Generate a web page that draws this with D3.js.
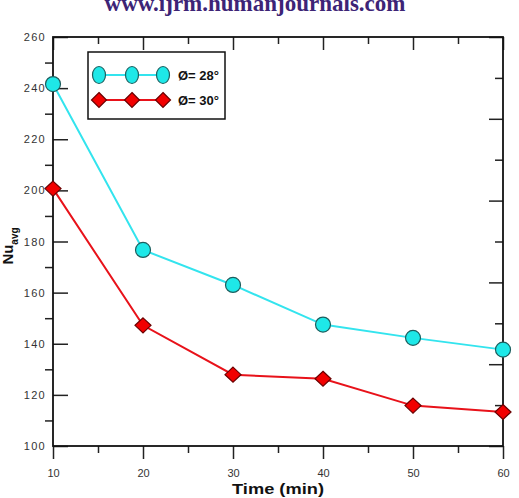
<!DOCTYPE html>
<html><head><meta charset="utf-8">
<script src="https://cdn.jsdelivr.net/npm/d3@7"></script>
<style>body{margin:0;background:#fff;}svg{display:block;}</style>
</head><body>
<svg id="c" width="519" height="498"></svg>
<script>
const times = [10, 20, 30, 40, 50, 60];
const nu28 = [241.6, 176.7, 163.0, 147.5, 142.3, 137.7];
const nu30 = [200.7, 147.2, 127.9, 126.3, 115.8, 113.3];
const seriesNames = ["Ø= 28°", "Ø= 30°"];
const xMajor = [10, 20, 30, 40, 50, 60];
const xMinor = [15, 25, 35, 45, 55];
const yMajor = [100, 120, 140, 160, 180, 200, 220, 240, 260];
const yMinor = [110, 130, 150, 170, 190, 210, 230, 250];
const rMajor = [0, 2, 4, 6, 8, 10];
const rMinor = [1, 3, 5, 7, 9];

const svg = d3.select("#c");
const L = 53, R = 503, T = 37, B = 446;
const x = d3.scaleLinear().domain([10, 60]).range([L, R]);
const y = d3.scaleLinear().domain([100, 260]).range([B, T]);
const yr = d3.scaleLinear().domain([0, 10]).range([B, T]);

// watermark (cut off at the top, as in the source)
svg.append("text").attr("x", 255).attr("y", 11).attr("text-anchor", "middle")
  .attr("font-family", "Liberation Serif, Times New Roman, serif").attr("font-weight", "bold")
  .attr("font-size", 23).attr("fill", "#3d2476").text("www.ijrm.humanjournals.com");

const tickFont = "Liberation Sans, Arial, sans-serif";
function styleAxis(g) {
  g.select(".domain").remove();
  g.selectAll("line").attr("stroke", "#222").attr("stroke-width", 1.5);
  g.selectAll("text").attr("font-family", tickFont).attr("font-size", 11).attr("fill", "#333");
}
// left
svg.append("g").attr("transform", `translate(${L},0)`)
  .call(d3.axisLeft(y).tickValues(yMajor).tickSizeInner(-15).tickSizeOuter(0).tickPadding(7)).call(styleAxis)
  .call(g => g.selectAll("text").attr("letter-spacing", 1.3));
svg.append("g").attr("transform", `translate(${L},0)`)
  .call(d3.axisLeft(y).tickValues(yMinor).tickSize(8).tickFormat("")).call(styleAxis);
// bottom
svg.append("g").attr("transform", `translate(0,${B})`)
  .call(d3.axisBottom(x).tickValues(xMajor).tickSizeInner(13).tickSizeOuter(0).tickPadding(10)).call(styleAxis);
svg.append("g").attr("transform", `translate(0,${B})`)
  .call(d3.axisBottom(x).tickValues(xMinor).tickSize(7).tickFormat("")).call(styleAxis);
// top
svg.append("g").attr("transform", `translate(0,${T})`)
  .call(d3.axisTop(x).tickValues(xMajor).tickSize(-13).tickFormat("")).call(styleAxis);
svg.append("g").attr("transform", `translate(0,${T})`)
  .call(d3.axisTop(x).tickValues(xMinor).tickSize(-7).tickFormat("")).call(styleAxis);
// right
svg.append("g").attr("transform", `translate(${R},0)`)
  .call(d3.axisRight(yr).tickValues(rMajor).tickSize(-14).tickFormat("")).call(styleAxis);
svg.append("g").attr("transform", `translate(${R},0)`)
  .call(d3.axisRight(yr).tickValues(rMinor).tickSize(-8).tickFormat("")).call(styleAxis);

// frame
svg.append("rect").attr("x", L).attr("y", T).attr("width", R - L).attr("height", B - T)
  .attr("fill", "none").attr("stroke", "#111").attr("stroke-width", 1.8);

// axis titles
svg.append("text").attr("x", (L + R) / 2).attr("y", 494).attr("text-anchor", "middle")
  .attr("font-family", tickFont).attr("font-weight", "bold").attr("font-size", 15).attr("fill", "#111")
  .attr("textLength", 92).attr("lengthAdjust", "spacingAndGlyphs")
  .text("Time (min)");
const yl = svg.append("text").attr("transform", "translate(13,246) rotate(-90)").attr("text-anchor", "middle")
  .attr("font-family", tickFont).attr("font-weight", "bold").attr("font-size", 15).attr("fill", "#111");
yl.append("tspan").text("Nu");
yl.append("tspan").attr("dy", 5).attr("font-size", 10).text("avg");

const cyanLine = "#33e4ee", cyanFill = "#1ee8e8", cyanStroke = "#1d5e5e";
const redLine = "#e8121a", redFill = "#f20000", redStroke = "#6a0000";
const diamond = (cx, cy, w, h) => `M${cx},${cy - h}L${cx + w},${cy}L${cx},${cy + h}L${cx - w},${cy}Z`;

const line = d3.line().x(d => x(d[0])).y(d => y(d[1]));
const d28 = times.map((t, i) => [t, nu28[i]]);
const d30 = times.map((t, i) => [t, nu30[i]]);

svg.append("path").attr("d", line(d28)).attr("fill", "none").attr("stroke", cyanLine).attr("stroke-width", 2);
svg.append("path").attr("d", line(d30)).attr("fill", "none").attr("stroke", redLine).attr("stroke-width", 2);

svg.selectAll(".c28").data(d28).enter().append("circle")
  .attr("cx", d => x(d[0])).attr("cy", d => y(d[1])).attr("r", 7.5)
  .attr("fill", cyanFill).attr("stroke", cyanStroke).attr("stroke-width", 1.2);
svg.selectAll(".d30").data(d30).enter().append("path")
  .attr("d", d => diamond(x(d[0]), y(d[1]), 8, 7.5))
  .attr("fill", redFill).attr("stroke", redStroke).attr("stroke-width", 1.2);

// legend
const lg = svg.append("g");
lg.append("rect").attr("x", 88).attr("y", 52).attr("width", 137).attr("height", 67)
  .attr("fill", "#fff").attr("stroke", "#111").attr("stroke-width", 1.5);
const lxs = [99, 132, 163];
[[75, 0], [100, 1]].forEach(([ly, k]) => {
  lg.append("line").attr("x1", lxs[0]).attr("x2", lxs[2]).attr("y1", ly).attr("y2", ly)
    .attr("stroke", k === 0 ? cyanLine : redLine).attr("stroke-width", 2);
  lxs.forEach(lx => {
    if (k === 0) lg.append("ellipse").attr("cx", lx).attr("cy", ly).attr("rx", 6.5).attr("ry", 8.5)
      .attr("fill", cyanFill).attr("stroke", cyanStroke).attr("stroke-width", 1.2);
    else lg.append("path").attr("d", diamond(lx, ly, 7.5, 7.5))
      .attr("fill", redFill).attr("stroke", redStroke).attr("stroke-width", 1.2);
  });
  lg.append("text").attr("x", 178).attr("y", ly + 5).attr("font-family", tickFont)
    .attr("font-weight", "bold").attr("font-size", 13).attr("fill", "#111").text(seriesNames[k]);
});
</script>
</body></html>
